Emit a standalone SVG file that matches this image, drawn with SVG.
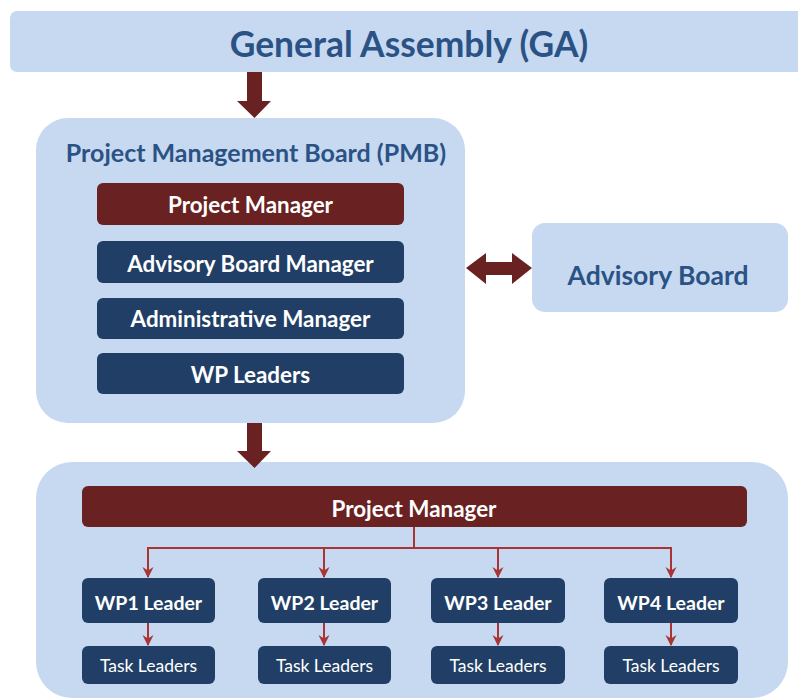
<svg xmlns="http://www.w3.org/2000/svg" width="798" height="698" viewBox="0 0 798 698">
  <style>
    .panel { fill: #c6d9f0; }
    .red { fill: #6a2121; }
    .navy { fill: #213f66; }
    .head { font-family: Lato, "Open Sans", sans-serif; font-weight: bold; fill: #2b5285; text-anchor: middle; }
    .lbl { font-family: Lato, "Open Sans", sans-serif; font-weight: bold; fill: #ffffff; text-anchor: middle; }
    .small { font-family: Lato, "Open Sans", sans-serif; fill: #ffffff; text-anchor: middle; font-size: 17.5px; }
    .link { fill: none; stroke: #a83434; stroke-width: 2; }
    .block { fill: #6a2121; }
  </style>
  <defs>
    <marker id="tip" viewBox="0 0 10 10" refX="9" refY="5" markerWidth="11" markerHeight="12" markerUnits="userSpaceOnUse" orient="auto">
      <path d="M0,0 L10,5 L0,10 L3,5 Z" fill="#a83434"/>
    </marker>
  </defs>
  <rect width="798" height="698" fill="#ffffff"/>

  <g id="ga">
    <rect class="panel" x="10" y="11" width="800" height="61" rx="7"/>
    <text class="head" x="409" y="57" font-size="35.4">General Assembly (GA)</text>
  </g>

  <g id="pmb">
    <rect class="panel" x="36" y="118" width="429" height="305" rx="32"/>
    <text class="head" x="256" y="162" font-size="25">Project Management Board (PMB)</text>
    <g id="pmb-pm">
      <rect class="red" x="97" y="183" width="307" height="42" rx="6"/>
      <text class="lbl" x="250.5" y="213" font-size="22.4">Project Manager</text>
    </g>
    <g id="pmb-abm">
      <rect class="navy" x="97" y="241" width="307" height="42" rx="6"/>
      <text class="lbl" x="250.5" y="272" font-size="22.4">Advisory Board Manager</text>
    </g>
    <g id="pmb-adm">
      <rect class="navy" x="97" y="298" width="307" height="41" rx="6"/>
      <text class="lbl" x="250.5" y="327" font-size="22.4">Administrative Manager</text>
    </g>
    <g id="pmb-wpl">
      <rect class="navy" x="97" y="353" width="307" height="41" rx="6"/>
      <text class="lbl" x="250.5" y="383" font-size="22.4">WP Leaders</text>
    </g>
  </g>

  <g id="advisory-board">
    <rect class="panel" x="532" y="223" width="256" height="89" rx="13"/>
    <text class="head" x="658" y="285" font-size="26.5">Advisory Board</text>
  </g>

  <g id="execution">
    <rect class="panel" x="36" y="462" width="752" height="236" rx="36"/>
    <g id="exec-pm">
      <rect class="red" x="82" y="486" width="665" height="41" rx="6"/>
      <text class="lbl" x="414" y="517" font-size="22.4">Project Manager</text>
    </g>
    <g id="wp1">
      <rect class="navy" x="82" y="578" width="133" height="45" rx="6"/>
      <text class="lbl" x="148.5" y="610" font-size="19.5">WP1 Leader</text>
    </g>
    <g id="wp2">
      <rect class="navy" x="258" y="578" width="133" height="45" rx="6"/>
      <text class="lbl" x="324.5" y="610" font-size="19.5">WP2 Leader</text>
    </g>
    <g id="wp3">
      <rect class="navy" x="431" y="578" width="134" height="45" rx="6"/>
      <text class="lbl" x="498" y="610" font-size="19.5">WP3 Leader</text>
    </g>
    <g id="wp4">
      <rect class="navy" x="604" y="578" width="134" height="45" rx="6"/>
      <text class="lbl" x="671" y="610" font-size="19.5">WP4 Leader</text>
    </g>
    <g id="tl1">
      <rect class="navy" x="82" y="646" width="133" height="38" rx="6"/>
      <text class="small" x="148.5" y="672">Task Leaders</text>
    </g>
    <g id="tl2">
      <rect class="navy" x="258" y="646" width="133" height="38" rx="6"/>
      <text class="small" x="324.5" y="672">Task Leaders</text>
    </g>
    <g id="tl3">
      <rect class="navy" x="431" y="646" width="134" height="38" rx="6"/>
      <text class="small" x="498" y="672">Task Leaders</text>
    </g>
    <g id="tl4">
      <rect class="navy" x="604" y="646" width="134" height="38" rx="6"/>
      <text class="small" x="671" y="672">Task Leaders</text>
    </g>
  </g>

  <g id="connectors">
    <!-- block arrows -->
    <path class="block" d="M247,72 H262 V101 H271 L254.5,118 L237,101 H247 Z"/>
    <path class="block" d="M247,423 H262 V451 H271 L254.5,468 L237,451 H247 Z"/>
    <path class="block" d="M466,268 L486,253 V262 H512 V253 L532,268 L512,284 V275 H486 V284 Z"/>
    <!-- tree links -->
    <path class="link" d="M414,527 V548"/>
    <path class="link" d="M147,548 H672"/>
    <path class="link" d="M148,547 V577" marker-end="url(#tip)"/>
    <path class="link" d="M324,548 V577" marker-end="url(#tip)"/>
    <path class="link" d="M498,548 V577" marker-end="url(#tip)"/>
    <path class="link" d="M671,547 V577" marker-end="url(#tip)"/>
    <path class="link" d="M148,623 V645" marker-end="url(#tip)"/>
    <path class="link" d="M324,623 V645" marker-end="url(#tip)"/>
    <path class="link" d="M498,623 V645" marker-end="url(#tip)"/>
    <path class="link" d="M671,623 V645" marker-end="url(#tip)"/>
  </g>
</svg>
